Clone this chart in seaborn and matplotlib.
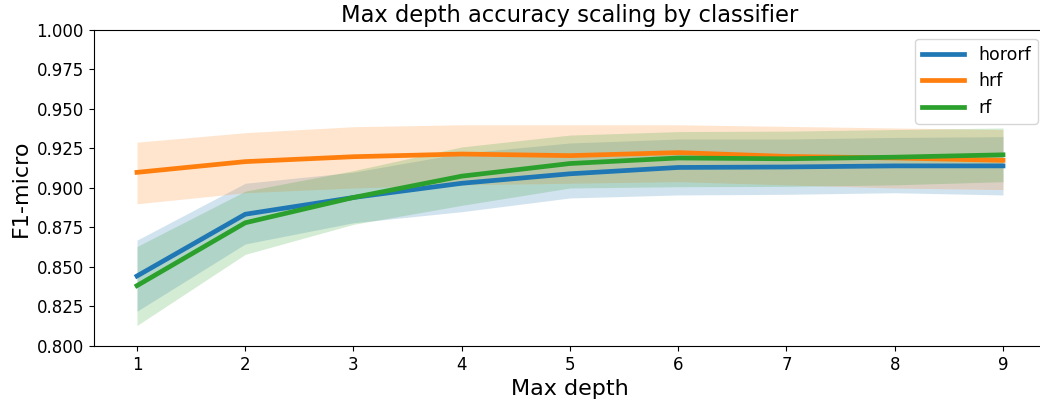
import matplotlib
matplotlib.use("Agg")
import matplotlib.pyplot as plt
import seaborn as sns
import pandas as pd
import numpy as np

max_depth = [1, 2, 3, 4, 5, 6, 7, 8, 9]
classifiers = ["hororf", "hrf", "rf"]

hororf_mean = [0.8443, 0.8834, 0.8940, 0.9030, 0.9090, 0.9130, 0.9133, 0.9140, 0.9140]
hororf_low = [0.8220, 0.8646, 0.8780, 0.8850, 0.8937, 0.8956, 0.8960, 0.8970, 0.8956]
hororf_high = [0.8670, 0.9030, 0.9100, 0.9220, 0.9285, 0.9310, 0.9310, 0.9320, 0.9325]

hrf_mean = [0.9099, 0.9167, 0.9198, 0.9215, 0.9205, 0.9224, 0.9200, 0.9190, 0.9175]
hrf_low = [0.8900, 0.8970, 0.9000, 0.9020, 0.9030, 0.9040, 0.9020, 0.9000, 0.8990]
hrf_high = [0.9290, 0.9350, 0.9388, 0.9400, 0.9400, 0.9400, 0.9390, 0.9380, 0.9370]

rf_mean = [0.8382, 0.8780, 0.8940, 0.9075, 0.9155, 0.9190, 0.9185, 0.9195, 0.9210]
rf_low = [0.8130, 0.8580, 0.8770, 0.8890, 0.9000, 0.9008, 0.9010, 0.9020, 0.9040]
rf_high = [0.8630, 0.8980, 0.9110, 0.9260, 0.9335, 0.9357, 0.9360, 0.9370, 0.9380]

means = {"hororf": hororf_mean, "hrf": hrf_mean, "rf": rf_mean}
lows = {"hororf": hororf_low, "hrf": hrf_low, "rf": rf_low}
highs = {"hororf": hororf_high, "hrf": hrf_high, "rf": rf_high}

rows = []
for c in classifiers:
    for d, m in zip(max_depth, means[c]):
        rows.append({"Max depth": d, "F1-micro": m, "classifier": c})
df = pd.DataFrame(rows)

colors = sns.color_palette("tab10", 3)
palette = dict(zip(classifiers, colors))

fig = plt.figure(figsize=(10.4, 4.0), dpi=100)
ax = fig.add_axes([93.7 / 1040, 54 / 400, (1046.3 - 93.7) / 1040, 316 / 400])

for c in classifiers:
    ax.fill_between(max_depth, lows[c], highs[c], color=palette[c], alpha=0.2, linewidth=0)

sns.lineplot(data=df, x="Max depth", y="F1-micro", hue="classifier",
             palette=palette, linewidth=3.4, ax=ax, legend=False)

handles = [plt.Line2D([], [], color=palette[c], linewidth=3.4) for c in classifiers]
ax.legend(handles, classifiers, loc="upper right", fontsize=12.5, handlelength=2.4)

ax.spines["right"].set_visible(False)
ax.set_ylim(0.8, 1.0)
ax.set_yticks(np.arange(0.8, 1.0001, 0.025))
ax.set_xticks(max_depth)
ax.tick_params(labelsize=12)
ax.set_xlabel("Max depth", fontsize=16)
ax.set_ylabel("F1-micro", fontsize=16)
ax.set_title("Max depth accuracy scaling by classifier", fontsize=16.3)

fig.savefig("out.png", dpi=100)
